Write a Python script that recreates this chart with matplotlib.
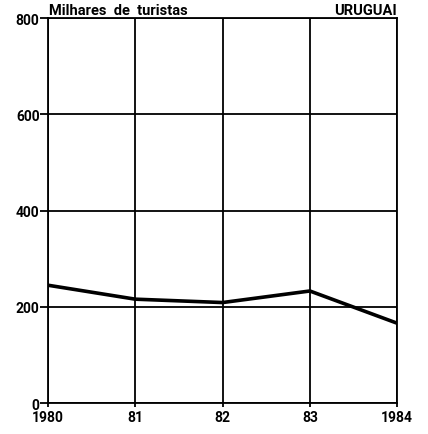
import matplotlib
matplotlib.use("Agg")
import matplotlib.pyplot as plt

years = [1980, 1981, 1982, 1983, 1984]
year_labels = ['1980', '81', '82', '83', '1984']
tourists = [245, 216, 209, 233, 166]
y_ticks = [0, 200, 400, 600, 800]

plt.rcParams['font.family'] = ['Roboto', 'DejaVu Sans']

fig = plt.figure(figsize=(4.28, 4.35), dpi=100)
ax = fig.add_axes([0.112, 0.071, 0.816, 0.885])

ax.plot(years, tourists, color='black', lw=2.6, solid_joinstyle='miter', zorder=3)

ax.set_xlim(1980, 1984)
ax.set_ylim(0, 800)
ax.set_xticks(years)
ax.set_xticklabels(year_labels, fontsize=10, fontweight='bold')
ax.set_yticks(y_ticks)
ax.set_yticklabels([str(v) for v in y_ticks], fontsize=10, fontweight='bold')
ax.grid(True, color='black', lw=1.3)
ax.tick_params(axis='y', length=6, width=1.3, color='black', pad=0)
ax.tick_params(axis='x', length=3, width=1.3, color='black', pad=2)
for s in ax.spines.values():
    s.set_linewidth(1.3)

ax.text(0.003, 1.004, 'Milhares  de  turistas', transform=ax.transAxes,
        ha='left', va='bottom', fontsize=10.5, fontweight='bold')
ax.text(1.0, 1.004, 'URUGUAI', transform=ax.transAxes,
        ha='right', va='bottom', fontsize=10.5, fontweight='bold')

fig.savefig('out.png', dpi=100)
